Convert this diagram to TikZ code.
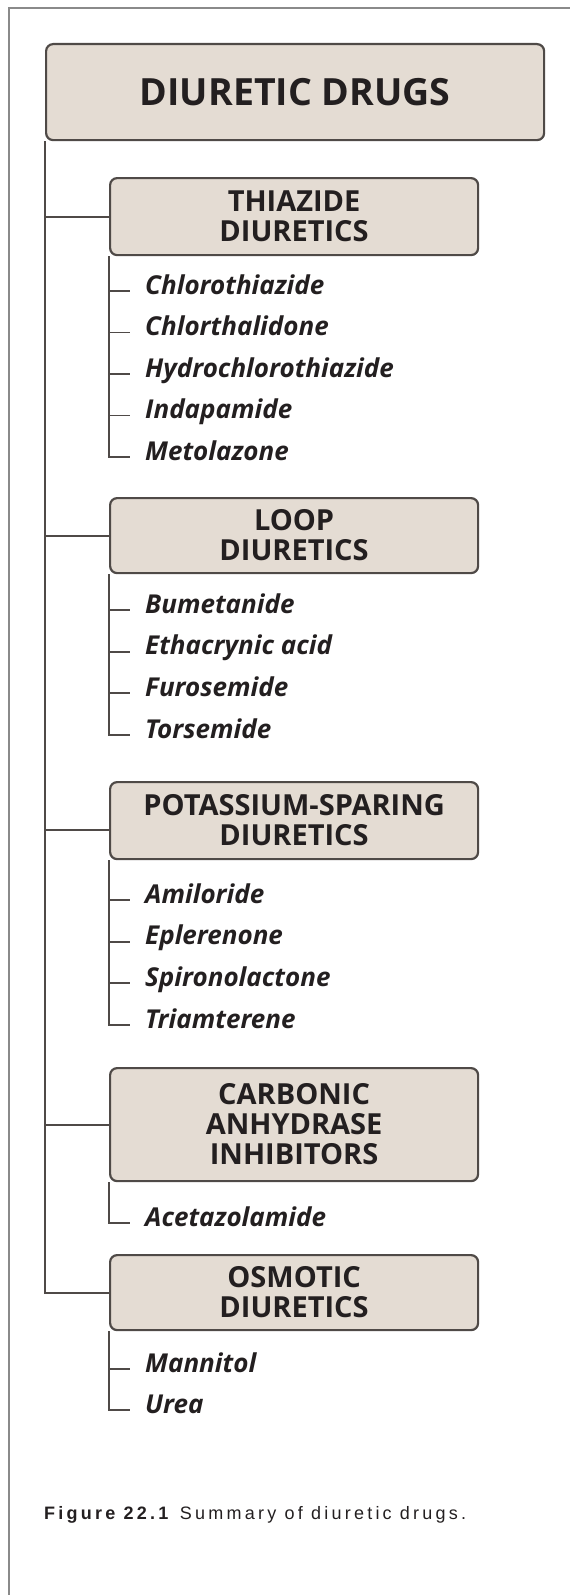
\documentclass[tikz,border=0pt]{standalone}
\usepackage{fontspec}
\setmainfont{Open Sans}
\newfontfamily\capfont[LetterSpace=18]{Liberation Sans}
\usetikzlibrary{positioning}
\definecolor{boxfill}{HTML}{E4DCD3}
\definecolor{boxline}{HTML}{4F4A47}
\definecolor{inkgray}{HTML}{231F20}
\definecolor{framegray}{HTML}{8A8A8A}

\begin{document}
\begin{tikzpicture}[
        x=1pt, y=-1pt,
        topbox/.style={rectangle, draw=boxline, fill=boxfill, line width=2.2pt, rounded corners=7pt, anchor=north west, minimum width=498pt, minimum height=96pt, text=inkgray, font=\bfseries\fontsize{37.5}{38}\selectfont},
        groupbox/.style={rectangle, draw=boxline, fill=boxfill, line width=2.2pt, rounded corners=7pt, anchor=north west, minimum width=368pt, minimum height=77pt, align=center, text=inkgray, font=\bfseries\fontsize{29}{30}\selectfont},
        drug/.style={anchor=west, inner sep=0pt, text=inkgray, text height=0.7em, text depth=0.1em, font=\bfseries\itshape\fontsize{26}{26}\selectfont},
        link/.style={draw=boxline, line width=1.9pt}
    ]
        \useasboundingbox (0,0) rectangle (570,1595);
        \draw[framegray, line width=2.5pt] (9,1600) -- (9,8) -- (580,8);

        % boxes
        \node[topbox] (main) at (45,43) {DIURETIC DRUGS};
        \node[groupbox] (thiazide) at (109,177) {THIAZIDE\\DIURETICS};
        \node[groupbox, minimum height=75pt] (loop) at (109,497) {LOOP\\DIURETICS};
        \node[groupbox] (ksparing) at (109,781) {POTASSIUM-SPARING\\DIURETICS};
        \node[groupbox, minimum height=113pt] (carbonic) at (109,1067) {CARBONIC\\ANHYDRASE\\INHIBITORS};
        \node[groupbox, minimum height=75pt] (osmotic) at (109,1254) {OSMOTIC\\DIURETICS};

        % drugs
        \foreach \txt [count=\i] in {Chlorothiazide,Chlorthalidone,Hydrochlorothiazide,Indapamide,Metolazone}
            \node[drug] (thz\i) at (145,291+41.5*\i-41.5) {\txt};
        \foreach \txt [count=\i] in {Bumetanide,Ethacrynic acid,Furosemide,Torsemide}
            \node[drug] (lp\i) at (145,610+41.7*\i-41.7) {\txt};
        \foreach \txt [count=\i] in {Amiloride,Eplerenone,Spironolactone,Triamterene}
            \node[drug] (ks\i) at (145,900+41.7*\i-41.7) {\txt};
        \node[drug] (ca1) at (145,1223) {Acetazolamide};
        \node[drug] (os1) at (145,1369) {Mannitol};
        \node[drug] (os2) at (145,1410) {Urea};

        % main tree
        \draw[link] (main.south west) |- (osmotic.west);
        \foreach \g in {thiazide,loop,carbonic}
            \draw[link] (main.south west |- \g.west) -- (\g.west);
        \draw[link] (main.south west |- ksparing.south west) ++(0,-30) -- ++(64,0);

        % drug lists
        \draw[link] (thiazide.south west) |- ([xshift=-15pt]thz5.west);
        \foreach \i in {1,...,4}
            \draw[link] (thiazide.south west |- thz\i.west) -- ([xshift=-15pt]thz\i.west);
        \draw[link] (loop.south west) |- ([xshift=-15pt]lp4.west);
        \foreach \i in {1,...,3}
            \draw[link] (loop.south west |- lp\i.west) -- ([xshift=-15pt]lp\i.west);
        \draw[link] (ksparing.south west) |- ([xshift=-15pt]ks4.west);
        \foreach \i in {1,...,3}
            \draw[link] (ksparing.south west |- ks\i.west) -- ([xshift=-15pt]ks\i.west);
        \draw[link] (carbonic.south west) |- ([xshift=-15pt]ca1.west);
        \draw[link] (osmotic.south west) |- ([xshift=-15pt]os2.west);
        \draw[link] (osmotic.south west |- os1.west) -- ([xshift=-15pt]os1.west);

        \node[anchor=west, inner sep=0pt, text=inkgray] (caption) at (44,1515)
            {\capfont\fontsize{18}{18}\selectfont\textbf{Figure 22.1} Summary of diuretic drugs.};
\end{tikzpicture}
\end{document}
